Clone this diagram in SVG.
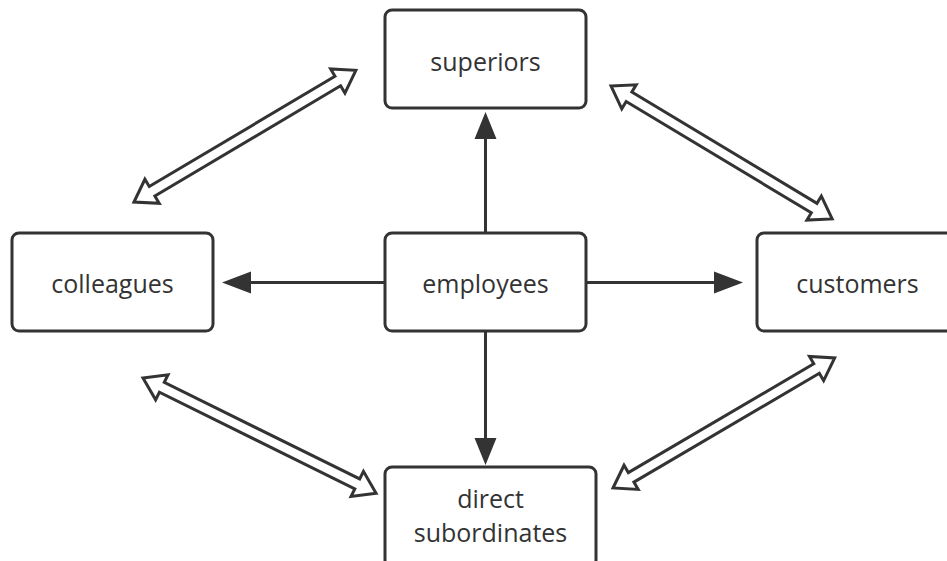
<svg xmlns="http://www.w3.org/2000/svg" width="947" height="561" viewBox="0 0 947 561">
<defs>
<style>
.box{fill:#fff;stroke:#333;stroke-width:3}
.lbl{font-family:"Open Sans","Noto Sans","Liberation Sans",sans-serif;font-size:25px;fill:#333;text-anchor:middle}
.line{stroke:#333;stroke-width:3;fill:none}
.dbl{fill:#fff;stroke:#333;stroke-width:3;stroke-linejoin:miter}
</style>
</defs>
<rect width="947" height="561" fill="#fff"/>
<g id="connectors">
<path class="line" d="M485.5,233 V138"/>
<path d="M474.5,139 L485.5,112 L496.5,139 Z" fill="#333"/>
<path class="line" d="M385,282.5 H250"/>
<path d="M251,271.5 L222,282.5 L251,293.5 Z" fill="#333"/>
<path class="line" d="M586,282.5 H715"/>
<path d="M714,271.5 L743,282.5 L714,293.5 Z" fill="#333"/>
<path class="line" d="M485.5,331 V440"/>
<path d="M474.5,438 L485.5,465 L496.5,438 Z" fill="#333"/>
<polygon class="dbl" transform="translate(134,202) rotate(-30.7)" points="0,0 21,-14 21,-5.5 237,-5.5 237,-14 258,0 237,14 237,5.5 21,5.5 21,14"/>
<polygon class="dbl" transform="translate(611,86) rotate(31)" points="0,0 21,-14 21,-5.5 237,-5.5 237,-14 258,0 237,14 237,5.5 21,5.5 21,14"/>
<polygon class="dbl" transform="translate(143,378) rotate(26.3)" points="0,0 21,-14 21,-5.5 239,-5.5 239,-14 260,0 239,14 239,5.5 21,5.5 21,14"/>
<polygon class="dbl" transform="translate(613,488) rotate(-30.4)" points="0,0 21,-14 21,-5.5 236,-5.5 236,-14 257,0 236,14 236,5.5 21,5.5 21,14"/>
</g>
<g id="superiors">
<rect class="box" x="385" y="10" width="201" height="98" rx="7"/>
<text class="lbl" x="485.5" y="71">superiors</text>
</g>
<g id="colleagues">
<rect class="box" x="12" y="233" width="201" height="98" rx="7"/>
<text class="lbl" x="112.5" y="293">colleagues</text>
</g>
<g id="employees">
<rect class="box" x="385" y="233" width="201" height="98" rx="7"/>
<text class="lbl" x="485.5" y="293">employees</text>
</g>
<g id="customers">
<rect class="box" x="757" y="233" width="201" height="98" rx="7"/>
<text class="lbl" x="857.5" y="293">customers</text>
</g>
<g id="direct-subordinates">
<rect class="box" x="385" y="467" width="211" height="100" rx="7"/>
<text class="lbl" x="490.5" y="508">direct</text>
<text class="lbl" x="490.5" y="542">subordinates</text>
</g>
</svg>
